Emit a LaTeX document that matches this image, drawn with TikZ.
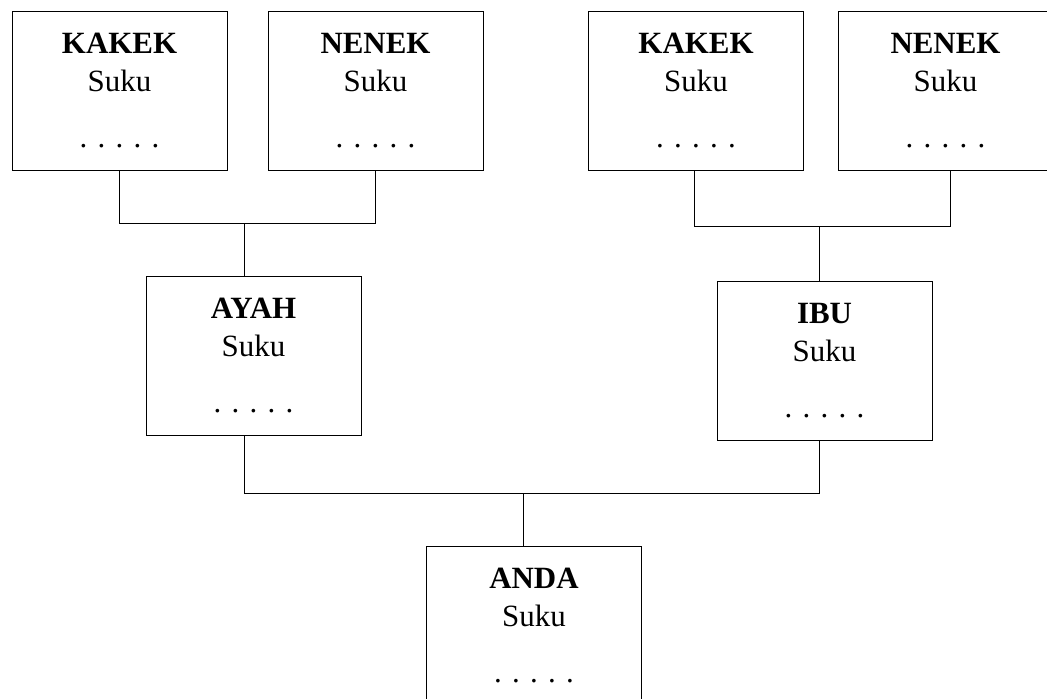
\documentclass[tikz,border=0pt]{standalone}
\usepackage{fontspec}
\setmainfont{Liberation Serif}
\usepackage{tikz}
\usetikzlibrary{positioning}
\tikzset{
    x=0.02cm, y=-0.02cm,
    line width=0.6pt,
    person/.style={draw, rectangle, minimum width=4.3cm, minimum height=3.18cm,
        align=center, inner sep=0pt, font=\fontsize{17.6}{21.5}\selectfont},
    link/.style={draw}
}
\newcommand{\suku}[1]{\textbf{#1}\\Suku\\[10.2pt]. . . . .}

\begin{document}
\begin{tikzpicture}
    % page size of the original
    \useasboundingbox (0,0) rectangle (1047,698);
    \clip (0,0) rectangle (1047,698);
        \node[person] (kakekA) at (119.5,90.5) {\suku{KAKEK}};
        \node[person] (nenekA) at (375.5,90.5) {\suku{NENEK}};
        \node[person] (kakekB) at (696,90.5) {\suku{KAKEK}};
        \node[person] (nenekB) at (945.5,90.5) {\suku{NENEK}};
        \node[person] (ayah) at (253.5,355.5) {\suku{AYAH}};
        \node[person] (ibu) at (824.5,360.5) {\suku{IBU}};
        \node[person] (anda) at (534,625.5) {\suku{ANDA}};
        % junctions
        \coordinate (jA) at (244,223);
        \coordinate (jB) at (819,226);
        \coordinate (jC) at (523,493);
        \draw (kakekA.south) |- (jA) -| (nenekA.south);
        \draw (jA) -- (jA |- ayah.north);
        \draw ([xshift=-0.04cm]kakekB.south) |- (jB) -| ([xshift=0.09cm]nenekB.south);
        \draw (jB) -- (jB |- ibu.north);
        \draw (jA |- ayah.south) |- (jC) -| (jB |- ibu.south);
        \draw (jC) -- (jC |- anda.north);
    \end{tikzpicture}
\end{document}
